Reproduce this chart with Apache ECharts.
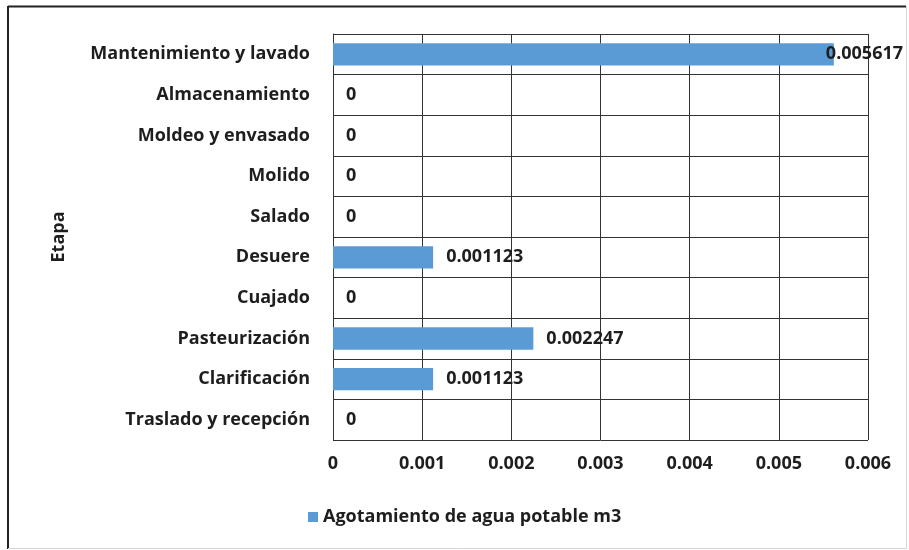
<!DOCTYPE html>
<html>
<head>
<meta charset="utf-8">
<script src="https://cdn.jsdelivr.net/npm/echarts@6/dist/echarts.min.js"></script>
<style>
html,body{margin:0;padding:0;background:#fff;}
#chart{width:909px;height:550px;}
</style>
</head>
<body>
<div id="chart"></div>
<script>
// etapas, de abajo hacia arriba
var etapas = ['Traslado y recepción', 'Clarificación', 'Pasteurización', 'Cuajado', 'Desuere',
    'Salado', 'Molido', 'Moldeo y envasado', 'Almacenamiento', 'Mantenimiento y lavado'];
var agotamiento = [0, 0.001123, 0.002247, 0, 0.001123, 0, 0, 0, 0, 0.005617];
var serieNombre = 'Agotamiento de agua potable m3';

var fuente = 'Open Sans';
var texto = {fontFamily: fuente, fontSize: 18, fontWeight: 'bold', color: '#1e1e1e'};
var maximo = Math.max.apply(null, agotamiento);

// la etiqueta de la barra mas larga queda montada sobre el final de la barra
var datosBarras = agotamiento.map(function (v) {
    return v === maximo ? {value: v, label: {distance: -8}} : v;
});

var chart = echarts.init(document.getElementById('chart'));
var option = {
    animation: false,
    backgroundColor: '#fff',
    // marco exterior: oscuro arriba/izquierda, claro abajo/derecha
    graphic: [
        {type: 'line', shape: {x1: 8, y1: 6.5, x2: 906, y2: 6.5}, style: {stroke: '#222', lineWidth: 2}},
        {type: 'line', shape: {x1: 8, y1: 6, x2: 8, y2: 549}, style: {stroke: '#222', lineWidth: 2}},
        {type: 'line', shape: {x1: 906.5, y1: 6, x2: 906.5, y2: 549}, style: {stroke: '#d6d6d6', lineWidth: 1}},
        {type: 'line', shape: {x1: 8, y1: 548.5, x2: 907, y2: 548.5}, style: {stroke: '#d6d6d6', lineWidth: 1}}
    ],
    legend: {
        data: [serieNombre],
        left: 303,
        top: 503,
        icon: 'rect',
        itemWidth: 10,
        itemHeight: 10,
        itemGap: 5,
        textStyle: texto
    },
    grid: {left: 333, right: 41, top: 34, bottom: 110, containLabel: false},
    xAxis: {
        type: 'value',
        min: 0,
        max: 0.006,
        interval: 0.001,
        axisLine: {show: false},
        axisTick: {show: false},
        axisLabel: Object.assign({margin: 15,
            formatter: function (v) { return v === 0 ? '0' : v.toFixed(3); }}, texto),
        splitLine: {show: true, lineStyle: {color: '#333', width: 1}}
    },
    yAxis: {
        type: 'category',
        data: etapas,
        name: 'Etapa',
        nameLocation: 'middle',
        nameGap: 265,
        nameTextStyle: texto,
        axisLine: {show: true, lineStyle: {color: '#333'}},
        axisTick: {show: false},
        axisLabel: Object.assign({margin: 23}, texto),
        splitLine: {show: true, lineStyle: {color: '#333', width: 1}}
    },
    series: [{
        name: serieNombre,
        type: 'bar',
        data: datosBarras,
        barWidth: '55%',
        itemStyle: {color: '#5B9BD5'},
        label: Object.assign({
            show: true,
            position: 'right',
            distance: 13,
            formatter: function (p) { return p.value === 0 ? '0' : p.value.toFixed(6); }
        }, texto)
    }]
};
chart.setOption(option);
</script>
</body>
</html>
